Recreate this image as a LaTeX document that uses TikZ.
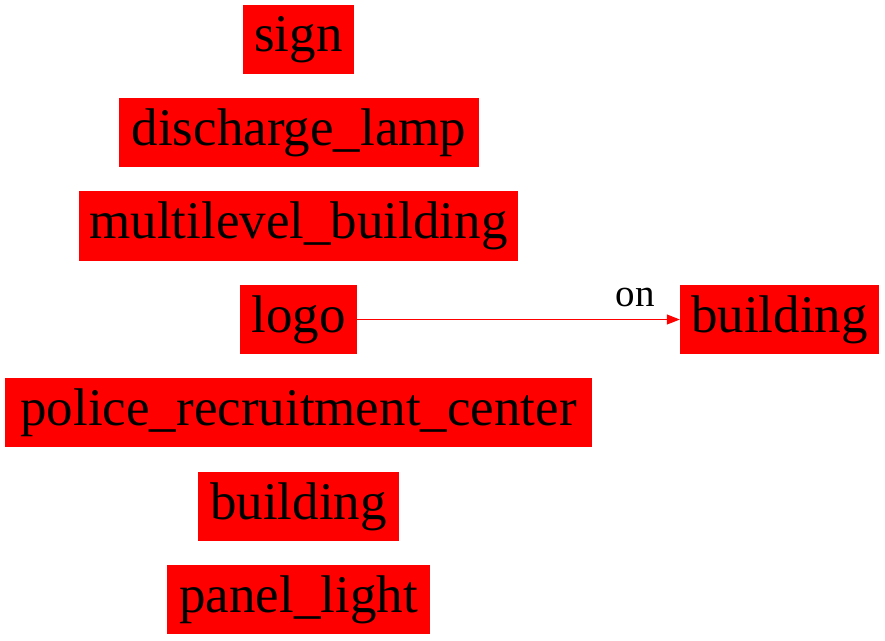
\documentclass[tikz,border=0pt]{standalone}
\usepackage{fontspec}
\setmainfont{Liberation Serif}
\usetikzlibrary{arrows.meta}
\begin{document}
\begin{tikzpicture}[x=1pt,y=-1pt,
  box/.style={draw=none,fill=red,inner sep=0pt,anchor=center,
    font=\fontsize{53}{56}\selectfont,text=black},
  lbl/.style={font=\fontsize{39}{42}\selectfont,text=black,inner sep=0pt},
  conn/.style={draw=red,line width=1.2pt,-{Triangle[length=13pt,width=10pt]}}]
\useasboundingbox (0,0) rectangle (885,640);
\node[box,minimum width=111pt,minimum height=69pt] (sign) at (298.5,39.5) {sign};
\node[box,minimum width=360pt,minimum height=69pt] (lamp) at (299,132.5) {discharge\_lamp};
\node[box,minimum width=439pt,minimum height=70pt] (multi) at (298.5,226) {multilevel\_building};
\node[box,minimum width=117pt,minimum height=69pt] (logo) at (298.5,319.5) {logo};
\node[box,minimum width=587pt,minimum height=69pt] (police) at (298.5,412.5) {police\_recruitment\_center};
\node[box,minimum width=201pt,minimum height=69pt] (bldg) at (298.5,506.5) {building};
\node[box,minimum width=263pt,minimum height=69pt] (panel) at (298.5,599.5) {panel\_light};
\node[box,minimum width=199pt,minimum height=69pt] (bldg2) at (779.5,319.5) {building};
\draw[conn] (logo.east) -- (bldg2.west);
\node[lbl] (on) at (635,297) {on};
\end{tikzpicture}
\end{document}
